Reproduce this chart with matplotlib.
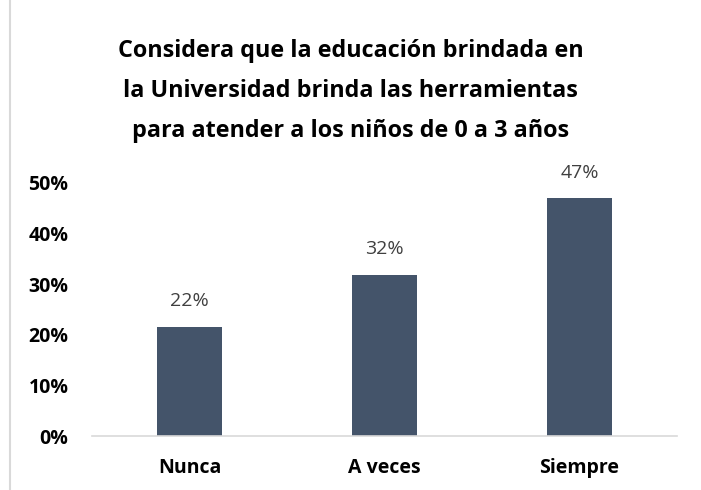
import matplotlib
matplotlib.use("Agg")
import matplotlib.pyplot as plt
from matplotlib.ticker import FuncFormatter, MultipleLocator
from matplotlib.lines import Line2D

categories = ["Nunca", "A veces", "Siempre"]
values = [0.216, 0.318, 0.470]
labels = ["22%", "32%", "47%"]
title = "Considera que la educación brindada en\nla Universidad brinda las herramientas\npara atender a los niños de 0 a 3 años"

plt.rcParams['font.family'] = ['Open Sans', 'DejaVu Sans']

fig = plt.figure(figsize=(7.01, 4.90), dpi=100)
W, H = 701, 490
x0, x1 = 92, 677
y0, y1 = 436, 183
ax = fig.add_axes([x0 / W, 1 - y0 / H, (x1 - x0) / W, (y0 - y1) / H])

xs = range(len(categories))
ax.bar(xs, values, width=0.333, color="#44546A")
for x, v, l in zip(xs, values, labels):
    ax.annotate(l, (x, v), xytext=(0, 12), textcoords="offset points",
                ha="center", va="bottom", fontsize=14, color="#404040")

ax.set_xlim(-0.5, 2.5)
ax.set_ylim(0, 0.5)
ax.yaxis.set_major_locator(MultipleLocator(0.1))
ax.yaxis.set_major_formatter(FuncFormatter(lambda v, p: f"{v*100:.0f}%"))
ax.set_xticks(list(xs))
ax.set_xticklabels(categories, fontsize=14, fontweight="bold", color="black")
for t in ax.get_yticklabels():
    t.set_fontsize(14)
    t.set_fontweight("bold")
ax.tick_params(axis="both", length=0)
ax.tick_params(axis="x", pad=16)
ax.tick_params(axis="y", pad=17)
for s in ["top", "right", "left"]:
    ax.spines[s].set_visible(False)
ax.spines["bottom"].set_color("#d9d9d9")
ax.spines["bottom"].set_linewidth(1.2)

fig.text(0.5 + 0.0, 1 - 91 / H, title, ha="center", va="center", fontsize=16.8,
         fontweight="bold", linespacing=1.87)

fig.add_artist(Line2D([10 / W, 10 / W], [0, 1], color="#d9d9d9", lw=1.5, transform=fig.transFigure))

fig.savefig("out.png", dpi=100, facecolor="white")
